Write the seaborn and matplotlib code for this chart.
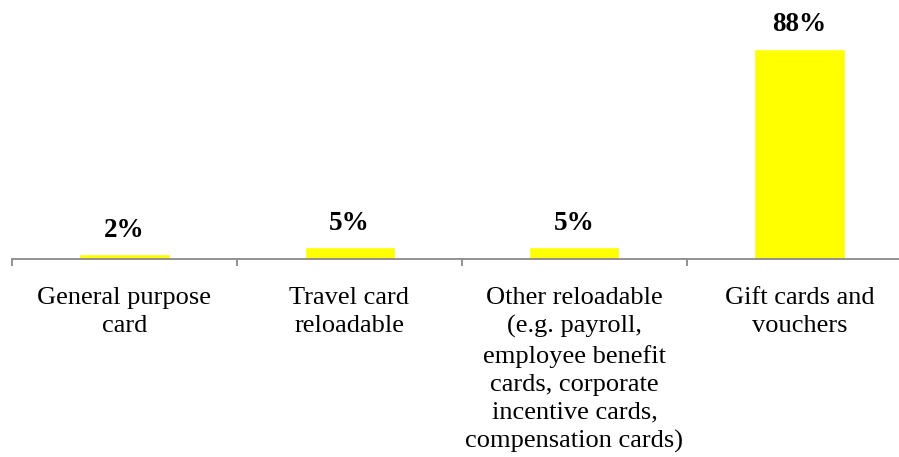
import matplotlib
matplotlib.use("Agg")
import matplotlib.pyplot as plt
import seaborn as sns
import pandas as pd

categories = [
    "General purpose\ncard",
    "Travel card\nreloadable",
    "Other reloadable\n(e.g. payroll,\nemployee benefit\ncards, corporate\nincentive cards,\ncompensation cards)",
    "Gift cards and\nvouchers",
]
shares = [2, 5, 5, 88]
labels = ["2%", "5%", "5%", "88%"]

df = pd.DataFrame({"category": categories, "share": shares})

sns.set_style("white")
plt.rcParams["font.family"] = ["Liberation Serif", "DejaVu Serif"]
plt.rcParams["text.color"] = "black"
plt.rcParams["xtick.color"] = "#898989"
plt.rcParams["xtick.labelcolor"] = "black"

fig = plt.figure(figsize=(8.99, 4.57), dpi=100)
ax = fig.add_axes([12 / 899, 198 / 457, 900 / 899, 239 / 457])

sns.barplot(data=df, x="category", y="share", color="#FFFF00", width=0.4,
            saturation=1, ax=ax)

ax.set_xlim(-0.5, 3.5)
ax.set_ylim(0, 100)

for i, (v, t) in enumerate(zip(shares, labels)):
    ax.annotate(t, (i, v), xytext=(0, 12.5), textcoords="offset points",
                ha="center", va="baseline", fontsize=19.5, fontweight="bold",
                color="black")

for s in ["left", "top", "right"]:
    ax.spines[s].set_visible(False)
ax.spines["bottom"].set_color("#898989")
ax.spines["bottom"].set_linewidth(1.3)

ax.set_yticks([])
ax.set_xlabel("")
ax.set_ylabel("")
ax.tick_params(axis="x", which="major", length=0, pad=20, labelsize=19,
               labelcolor="black")
ax.set_xticks([-0.5, 0.5, 1.5, 2.5, 3.5], minor=True)
ax.tick_params(axis="x", which="minor", bottom=True, length=5, width=1.3,
               color="#898989", direction="out")
for lab in ax.get_xticklabels():
    lab.set_linespacing(1.36)

fig.savefig("out.png", dpi=100)
